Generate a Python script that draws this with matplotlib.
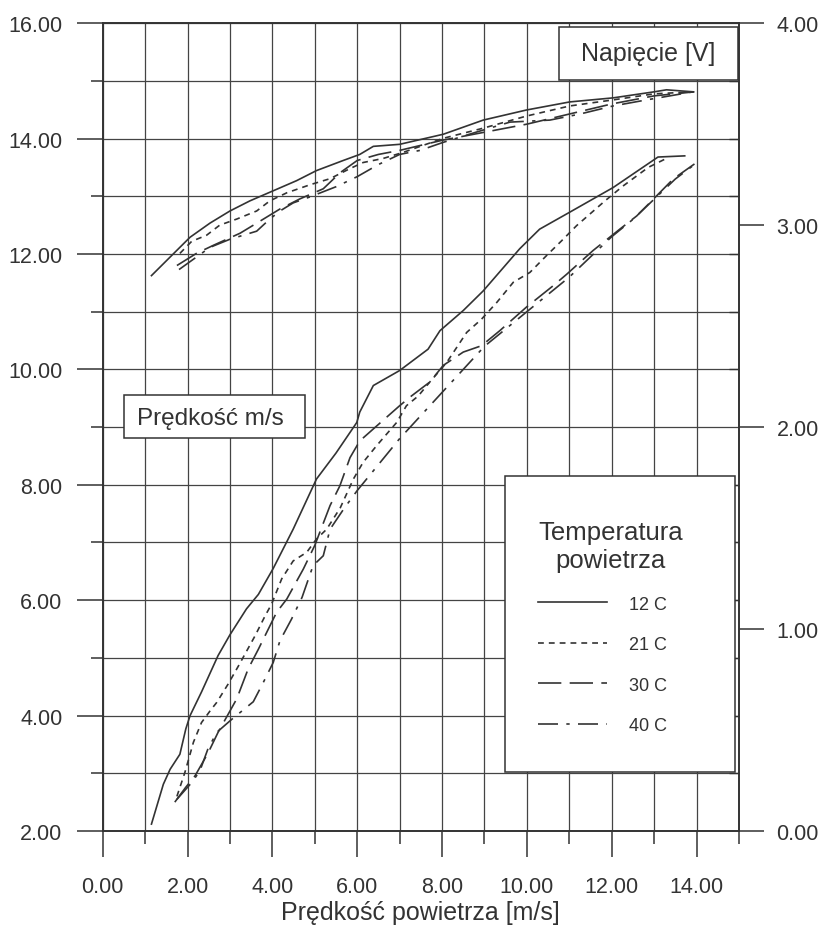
import matplotlib
matplotlib.use("Agg")
import matplotlib.pyplot as plt
from matplotlib.ticker import MultipleLocator, FormatStrFormatter, NullFormatter
from matplotlib.patches import Rectangle

plt.rcParams['font.family'] = ['Liberation Sans', 'DejaVu Sans']
ink = '#333333'

temps = ['12 C', '21 C', '30 C', '40 C']
styles = ['-', (0, (3.5, 3)), (0, (14, 5)), (0, (12, 5, 2, 5))]

# lower curves: Predkosc m/s (left axis)
v12_x = [1.15, 1.43, 1.59, 1.82, 1.96, 2.06, 2.33, 2.72, 3.0, 3.39, 3.67, 4.02, 4.49, 5.04, 5.5,
         5.99, 6.06, 6.38, 7.0, 7.67, 7.95, 8.5, 8.97, 9.83, 10.3, 11.0, 12.03, 13.09, 13.72]
v12_y = [2.12, 2.81, 3.07, 3.33, 3.77, 4.0, 4.41, 5.04, 5.4, 5.85, 6.1, 6.55, 7.23, 8.1, 8.55,
         9.08, 9.26, 9.72, 9.98, 10.35, 10.67, 11.02, 11.36, 12.09, 12.43, 12.72, 13.15, 13.68, 13.70]

v21_x = [1.75, 1.94, 2.14, 2.33, 2.53, 2.69, 2.96, 3.2, 3.59, 3.83, 3.98, 4.22, 4.49, 4.81, 5.04,
         5.28, 5.6, 5.91, 6.14, 6.46, 6.73, 6.93, 7.16, 7.44, 7.71, 8.11, 8.58, 8.93, 9.29, 9.68,
         10.07, 10.46, 10.82, 11.17, 11.84, 12.27, 12.86, 13.3]
v21_y = [2.6, 3.02, 3.54, 3.88, 4.08, 4.23, 4.55, 4.86, 5.38, 5.73, 5.93, 6.37, 6.68, 6.83, 7.06,
         7.23, 7.6, 8.1, 8.39, 8.68, 8.91, 9.08, 9.37, 9.54, 9.78, 10.12, 10.64, 10.87, 11.16, 11.51,
         11.68, 11.97, 12.23, 12.49, 12.92, 13.18, 13.5, 13.66]

v30_x = [1.7, 1.95, 2.18, 2.49, 2.72, 3.16, 3.43, 3.67, 4.1, 4.34, 4.73, 5.0, 5.36, 5.59, 5.83,
         6.06, 6.46, 7.0, 7.28, 7.71, 8.03, 8.5, 8.93, 9.36, 9.99, 10.62, 10.94, 11.56, 12.19,
         12.59, 12.9, 13.45, 13.95]
v30_y = [2.5, 2.75, 2.96, 3.36, 3.71, 4.29, 4.81, 5.15, 5.79, 6.02, 6.54, 6.95, 7.64, 7.98, 8.47,
         8.76, 9.02, 9.37, 9.54, 9.78, 10.07, 10.3, 10.41, 10.67, 11.08, 11.45, 11.65, 12.06, 12.43,
         12.66, 12.89, 13.3, 13.56]

v40_x = [1.75, 2.1, 2.29, 2.48, 2.69, 3.05, 3.55, 3.79, 4.02, 4.18, 4.45, 4.7, 4.96, 5.2, 5.36,
         5.7, 6.0, 6.5, 7.0, 7.5, 8.0, 8.5, 9.0, 9.5, 10.0, 10.5, 11.0, 11.5, 12.0, 12.5, 13.0,
         13.5, 13.95]
v40_y = [2.55, 2.84, 3.04, 3.42, 3.71, 3.94, 4.24, 4.58, 4.92, 5.3, 5.67, 6.05, 6.6, 6.77, 7.23,
         7.6, 7.9, 8.35, 8.8, 9.2, 9.6, 10.0, 10.4, 10.7, 11.0, 11.3, 11.6, 11.95, 12.3, 12.6, 12.95,
         13.3, 13.55]

# upper curves: Napiecie [V] (right axis)
u12_x = [1.15, 1.82, 2.06, 2.53, 3.0, 3.47, 4.02, 4.57, 5.04, 5.67, 6.06, 6.38, 7.0, 8.03, 8.97,
         9.99, 11.01, 12.03, 13.0, 13.29, 13.92]
u12_y = [2.75, 2.89, 2.94, 3.01, 3.07, 3.12, 3.17, 3.22, 3.27, 3.32, 3.35, 3.39, 3.40, 3.45, 3.52,
         3.57, 3.61, 3.63, 3.66, 3.67, 3.66]

u21_x = [1.82, 2.1, 2.45, 2.76, 3.16, 3.63, 3.94, 4.34, 4.89, 5.36, 5.83, 6.14, 6.61, 7.08, 8.03,
         8.97, 9.99, 11.01, 12.03, 13.0, 13.92]
u21_y = [2.86, 2.92, 2.95, 3.0, 3.03, 3.07, 3.12, 3.16, 3.2, 3.23, 3.28, 3.31, 3.33, 3.36, 3.43,
         3.48, 3.54, 3.59, 3.62, 3.65, 3.66]

u30_x = [1.75, 2.21, 2.61, 3.24, 3.79, 4.18, 4.65, 5.2, 5.6, 6.0, 6.5, 7.0, 8.0, 9.0, 10.0, 11.0,
         12.0, 13.0, 13.95]
u30_y = [2.8, 2.86, 2.9, 2.96, 3.03, 3.08, 3.13, 3.18, 3.26, 3.32, 3.35, 3.37, 3.42, 3.46, 3.5,
         3.55, 3.6, 3.64, 3.66]

u40_x = [1.8, 2.53, 3.0, 3.63, 3.94, 4.18, 4.49, 4.89, 5.5, 6.0, 6.5, 7.0, 7.48, 8.03, 8.8, 9.6,
         10.54, 11.25, 12.03, 12.82, 13.92]
u40_y = [2.78, 2.89, 2.93, 2.97, 3.03, 3.07, 3.11, 3.14, 3.19, 3.24, 3.3, 3.35, 3.37, 3.41, 3.46,
         3.51, 3.52, 3.55, 3.59, 3.62, 3.66]

lower = [(v12_x, v12_y), (v21_x, v21_y), (v30_x, v30_y), (v40_x, v40_y)]
upper = [(u12_x, u12_y), (u21_x, u21_y), (u30_x, u30_y), (u40_x, u40_y)]

fig = plt.figure(figsize=(8.26, 9.29), dpi=100)
ax = fig.add_axes([0.1243, 0.1044, 0.7704, 0.8696])
ax2 = ax.twinx()

handles = []
for (x, y), ls, lab in zip(lower, styles, temps):
    h, = ax.plot(x, y, color=ink, lw=1.2, linestyle=ls, label=lab)
    handles.append(h)
for (x, y), ls in zip(upper, styles):
    ax2.plot(x, y, color=ink, lw=1.2, linestyle=ls)

ax.set_xlim(0, 15)
ax.set_ylim(2, 16)
ax2.set_ylim(0, 4)

ax.xaxis.set_major_locator(MultipleLocator(2))
ax.xaxis.set_minor_locator(MultipleLocator(1))
ax.yaxis.set_major_locator(MultipleLocator(2))
ax.yaxis.set_minor_locator(MultipleLocator(1))
ax.xaxis.set_major_formatter(FormatStrFormatter('%.2f'))
ax.yaxis.set_major_formatter(FormatStrFormatter('%.2f'))
ax2.yaxis.set_major_locator(MultipleLocator(1))
ax2.yaxis.set_minor_locator(MultipleLocator(2 / 7))
ax2.yaxis.set_major_formatter(FormatStrFormatter('%.2f'))
ax2.yaxis.set_minor_formatter(NullFormatter())

ax.grid(which='both', color='#444444', lw=0.9)
ax.set_axisbelow(True)

ax.tick_params(axis='y', which='major', direction='out', length=19, width=1.1, color=ink,
               labelsize=15.5, labelcolor=ink, pad=10)
ax.tick_params(axis='y', which='minor', direction='out', length=8.5, width=1.1, color=ink)
ax.tick_params(axis='x', which='major', direction='out', length=18.5, width=1.1, color=ink,
               labelsize=15.5, labelcolor=ink, pad=14)
ax.tick_params(axis='x', which='minor', direction='out', length=9, width=1.1, color=ink)
ax2.tick_params(axis='y', which='major', direction='out', length=18, width=1.1, color=ink,
                labelsize=15.5, labelcolor=ink, pad=9)
ax2.tick_params(axis='y', which='minor', direction='in', length=7, width=1.0, color=ink)

for a in (ax, ax2):
    for s in a.spines.values():
        s.set_color(ink)
        s.set_linewidth(1.2)

ax.set_xlabel('Prędkość powietrza [m/s]', fontsize=18, color=ink, labelpad=2)

# text boxes
ax2.add_patch(Rectangle((0.7175, 0.9297), 0.2805, 0.0656, transform=ax2.transAxes,
                        facecolor='white', edgecolor=ink, lw=1.1, zorder=5))
ax2.text(0.8575, 0.9625, 'Napięcie [V]', transform=ax2.transAxes, fontsize=18, color=ink,
         ha='center', va='center', zorder=6)
ax2.add_patch(Rectangle((0.0335, 0.4865), 0.2845, 0.0532, transform=ax2.transAxes,
                        facecolor='white', edgecolor=ink, lw=1.1, zorder=5))
ax2.text(0.169, 0.5115, 'Prędkość m/s', transform=ax2.transAxes, fontsize=17.5, color=ink,
         ha='center', va='center', zorder=6)

# legend frame drawn separately so it can be wider than its content
ax2.add_patch(Rectangle((0.6323, 0.0730), 0.3615, 0.3664, transform=ax2.transAxes,
                        facecolor='white', edgecolor=ink, lw=1.1, zorder=9))
leg = ax2.legend(handles=handles, title='Temperatura\npowietrza', loc='upper left',
                 bbox_to_anchor=(0.6323, 0.4259), borderaxespad=0,
                 fontsize=13, title_fontsize=18.5, frameon=False,
                 borderpad=1.85, handlelength=3.8, handletextpad=1.2, labelspacing=1.3,
                 alignment='left')
leg.get_title().set_multialignment('center')
leg.get_title().set_color(ink)
for t in leg.get_texts():
    t.set_color(ink)
leg.set_zorder(10)

fig.savefig('out.png', dpi=100)
